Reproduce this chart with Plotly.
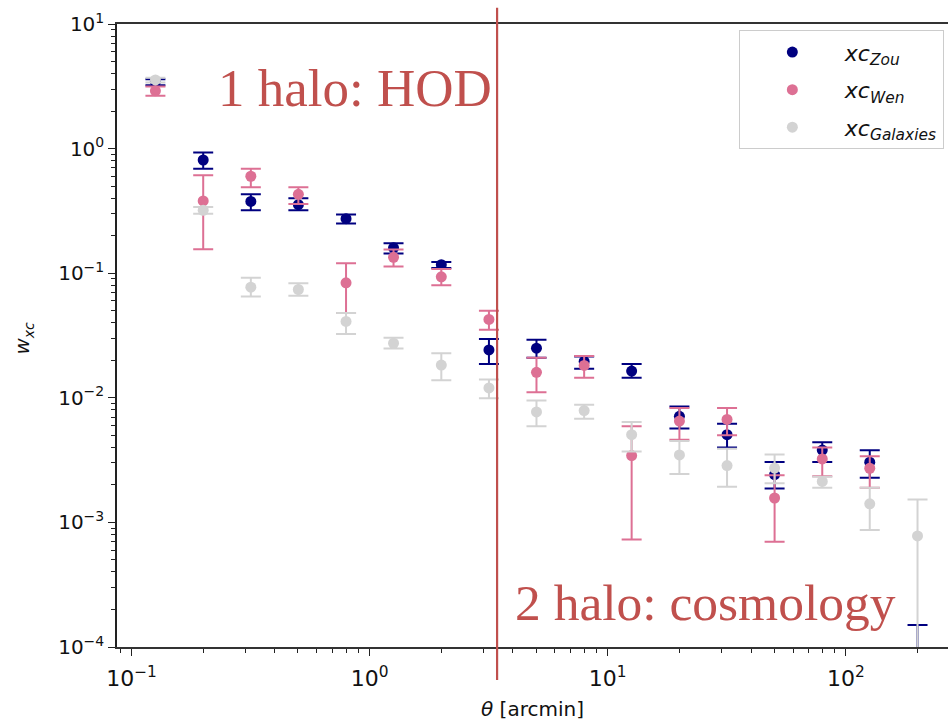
import math
import plotly.graph_objects as go

# ---------------- data ----------------
theta = [0.126, 0.2, 0.317, 0.502, 0.796, 1.26, 2.0, 3.17, 5.02, 7.96,
         12.6, 20.0, 31.7, 50.2, 79.6, 126, 200]

zou_w  = [3.45, 0.81, 0.377, 0.355, 0.274, 0.160, 0.117, 0.0242, 0.0250, 0.0196,
          0.0164, 0.0071, 0.00506, 0.00242, 0.00381, 0.00304, 0.00005]
zou_hi = [3.60, 0.93, 0.43, 0.40, 0.296, 0.174, 0.123, 0.0297, 0.0292, 0.0215,
          0.0187, 0.0085, 0.0062, 0.00305, 0.0044, 0.0038, 0.00015]
zou_lo = [3.23, 0.69, 0.32, 0.32, 0.251, 0.144, 0.110, 0.0187, 0.0210, 0.0171,
          0.0145, 0.00567, 0.0040, 0.00187, 0.00305, 0.00228, 0.00002]

wen_w  = [2.91, 0.38, 0.60, 0.43, 0.0837, 0.134, 0.0935, 0.0426, 0.0160, 0.0182,
          0.00344, 0.0065, 0.0067, 0.00157, 0.00323, 0.00272, None]
wen_hi = [3.15, 0.61, 0.69, 0.49, 0.120, 0.155, 0.108, 0.0499, 0.0210, 0.0217,
          0.0059, 0.0083, 0.0083, 0.00239, 0.0040, 0.0034, None]
wen_lo = [2.65, 0.156, 0.49, 0.36, 0.048, 0.113, 0.080, 0.0351, 0.0111, 0.0145,
          0.00073, 0.0046, 0.0050, 0.00070, 0.00235, 0.0019, None]

gal_w  = [3.56, 0.32, 0.0773, 0.074, 0.041, 0.0274, 0.0183, 0.0120, 0.0077, 0.0079,
          0.00506, 0.00348, 0.00286, 0.00273, 0.00213, 0.00141, 0.000778]
gal_hi = [3.70, 0.34, 0.092, 0.083, 0.048, 0.0303, 0.0228, 0.0140, 0.0095, 0.0088,
          0.0064, 0.0045, 0.0039, 0.00351, 0.00232, 0.0019, 0.00153]
gal_lo = [3.40, 0.30, 0.065, 0.066, 0.0325, 0.0249, 0.0138, 0.0099, 0.0059, 0.0068,
          0.0037, 0.00245, 0.00193, 0.00206, 0.00190, 0.00087, 0.00001]

series_names = ["<i>xc</i><sub><i>Zou</i></sub>",
                "<i>xc</i><sub><i>Wen</i></sub>",
                "<i>xc</i><sub><i>Galaxies</i></sub>"]
series_colors = ["#000080", "#DD7094", "#D3D3D3"]

theta_split = 3.43  # 1-halo / 2-halo boundary [arcmin]

x_tickvals = [0.1, 1, 10, 100]
x_ticktext = ["10<sup>−1</sup>", "10<sup>0</sup>", "10<sup>1</sup>", "10<sup>2</sup>"]
y_tickvals = [1e-4, 1e-3, 1e-2, 1e-1, 1, 10]
y_ticktext = ["10<sup>−4</sup>", "10<sup>−3</sup>", "10<sup>−2</sup>",
              "10<sup>−1</sup>", "10<sup>0</sup>", "10<sup>1</sup>"]

x_range_log = [-1.061, 2.429]
y_range_log = [-4, 1]

# ---------------- figure ----------------
def err(w, hi, lo):
    up = [(h - v) if v is not None else None for v, h in zip(w, hi)]
    dn = [(v - l) if v is not None else None for v, l in zip(w, lo)]
    return up, dn

fig = go.Figure()
for i, (name, col, (w, hi, lo)) in enumerate(zip(series_names, series_colors,
                                  [(zou_w, zou_hi, zou_lo),
                                   (wen_w, wen_hi, wen_lo),
                                   (gal_w, gal_hi, gal_lo)])):
    up, dn = err(w, hi, lo)
    fig.add_trace(go.Scatter(
        x=theta, y=w, mode="markers", name=name, legendgroup=f"g{i}",
        marker=dict(color=col, size=11),
        error_y=dict(type="data", symmetric=False, array=up, arrayminus=dn,
                     color=col, thickness=2, width=10),
    ))

def minor_vals(lo_e, hi_e):
    return [k * 10 ** e for e in range(lo_e, hi_e) for k in range(2, 10)]

fig.update_xaxes(
    type="log", range=x_range_log,
    tickvals=x_tickvals, ticktext=x_ticktext,
    ticks="outside", ticklen=7, tickwidth=1.3, tickcolor="#222",
    minor=dict(tickvals=minor_vals(-2, 3), ticks="outside", ticklen=4,
               tickwidth=1, tickcolor="#222"),
    showline=True, linecolor="#333", linewidth=1.5, mirror=True,
    showgrid=False, zeroline=False,
    ticklabelstandoff=4,
    tickfont=dict(family="DejaVu Sans", size=22, color="#111"),
    title=dict(text="<i>θ</i> [arcmin]",
               font=dict(family="DejaVu Sans", size=20, color="#111"),
               standoff=12),
)
fig.update_yaxes(
    type="log", range=y_range_log,
    tickvals=y_tickvals, ticktext=y_ticktext,
    ticks="outside", ticklen=7, tickwidth=1.3, tickcolor="#222",
    minor=dict(tickvals=minor_vals(-4, 1), ticks="outside", ticklen=4,
               tickwidth=1, tickcolor="#222"),
    showline=True, linecolor="#222", linewidth=1.5, mirror=False,
    showgrid=False, zeroline=False,
    tickfont=dict(family="DejaVu Sans", size=20, color="#111"),
)

# divider line
xpos = (math.log10(theta_split) - x_range_log[0]) / (x_range_log[1] - x_range_log[0])
fig.add_shape(type="line", xref="paper", yref="paper", x0=xpos, x1=xpos,
              y0=-0.053, y1=1.026, line=dict(color="#C0504D", width=2.2))

fig.add_annotation(text="1 halo: HOD", xref="paper", yref="paper",
                   x=0.1195, y=0.897, xanchor="left", yanchor="middle",
                   showarrow=False,
                   font=dict(family="Liberation Serif", size=53, color="#C0504D"))
fig.add_annotation(text="2 halo: cosmology", xref="paper", yref="paper",
                   x=0.477, y=0.072, xanchor="left", yanchor="middle",
                   showarrow=False,
                   font=dict(family="Liberation Serif", size=51.5, color="#C0504D"))
fig.add_annotation(text="<i>w</i><sub><i>xc</i></sub>", xref="paper", yref="paper",
                   x=(23 - 117) / 831, y=0.495, xanchor="center", yanchor="middle",
                   textangle=-90, showarrow=False,
                   font=dict(family="DejaVu Sans", size=20, color="#111"))

fig.update_layout(
    width=948, height=721,
    margin=dict(l=117, r=0, t=24, b=74),
    plot_bgcolor="white", paper_bgcolor="white",
    showlegend=True,
    legend=dict(x=0.995, y=0.99, xanchor="right", yanchor="top",
                bgcolor="white", bordercolor="#CCCCCC", borderwidth=1,
                font=dict(family="DejaVu Sans", size=22, color="#111"),
                itemwidth=95, tracegroupgap=6),
)

fig.write_html("out.html")
